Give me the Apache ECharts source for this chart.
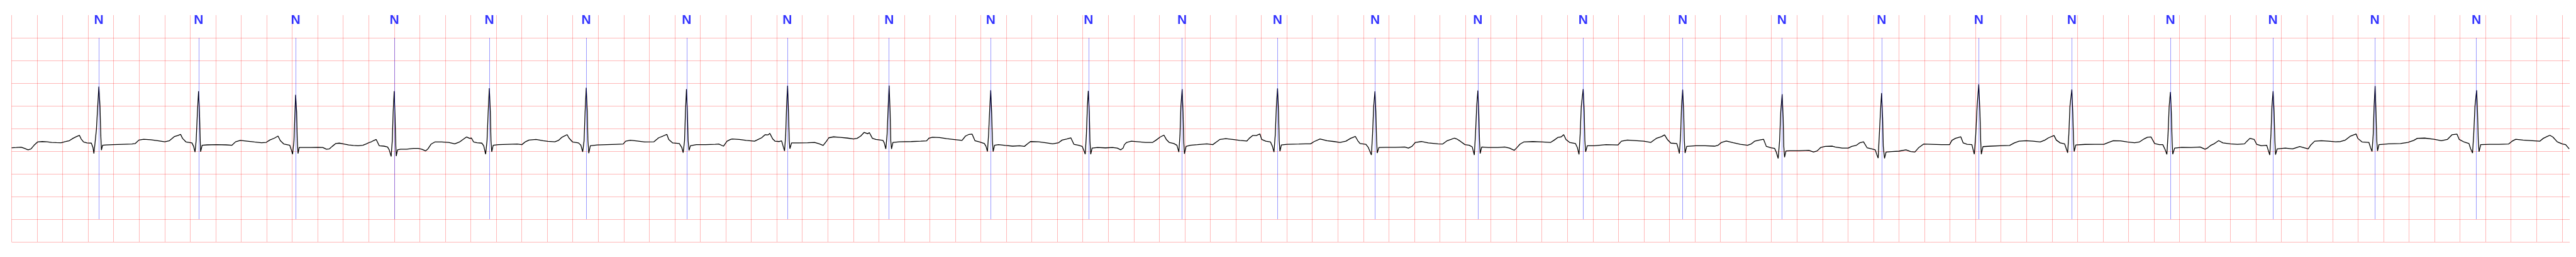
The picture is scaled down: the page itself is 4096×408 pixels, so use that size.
<!DOCTYPE html>
<html><head><meta charset="utf-8">
<script src="https://cdn.jsdelivr.net/npm/echarts@6/dist/echarts.min.js"></script>
<style>html,body{margin:0;padding:0;background:#fff;}#c{width:4096px;height:408px;}</style>
</head><body><div id="c"></div>
<script>
// Beat annotation times (s) and labels
const beatTimes = [0.684,1.466,2.227,3.001,3.746,4.506,5.294,6.083,6.881,7.678,8.445,9.179,9.927,10.692,11.498,12.324,13.104,13.882,14.664,15.426,16.156,16.929,17.732,18.532,19.328];
const beatLabels = ['N','N','N','N','N','N','N','N','N','N','N','N','N','N','N','N','N','N','N','N','N','N','N','N','N'];

// ECG trace [time s, amplitude mV]
const ecg1 = [[0,-0.424],[0.037,-0.419],[0.074,-0.412],[0.102,-0.439],[0.129,-0.470],[0.152,-0.449],[0.176,-0.369],[0.203,-0.298],[0.240,-0.288],[0.277,-0.293],[0.314,-0.306],[0.351,-0.311],[0.388,-0.313],[0.425,-0.288],[0.453,-0.268],[0.481,-0.217],[0.508,-0.179],[0.532,-0.152],[0.545,-0.230],[0.564,-0.298],[0.591,-0.318],[0.625,-0.323],[0.638,-0.419],[0.645,-0.551],[0.656,-0.268],[0.665,-0.015],[0.675,0.490],[0.684,0.924],[0.693,0.490],[0.699,-0.141],[0.704,-0.477],[0.713,-0.369],[0.739,-0.364],[0.795,-0.356],[0.869,-0.348],[0.943,-0.343],[0.970,-0.331],[0.998,-0.255],[1.035,-0.237],[1.091,-0.247],[1.146,-0.268],[1.201,-0.293],[1.238,-0.268],[1.275,-0.179],[1.303,-0.154],[1.325,-0.129],[1.340,-0.217],[1.368,-0.298],[1.414,-0.318],[1.427,-0.394],[1.438,-0.520],[1.447,-0.268],[1.457,0.364],[1.466,0.823],[1.473,0.364],[1.479,-0.268],[1.482,-0.513],[1.494,-0.369],[1.534,-0.361],[1.608,-0.356],[1.682,-0.361],[1.728,-0.369],[1.756,-0.293],[1.793,-0.263],[1.848,-0.280],[1.904,-0.298],[1.959,-0.313],[1.996,-0.306],[2.024,-0.255],[2.061,-0.212],[2.089,-0.167],[2.107,-0.268],[2.135,-0.343],[2.181,-0.369],[2.196,-0.495],[2.203,-0.566],[2.214,-0.268],[2.222,0.364],[2.227,0.742],[2.235,0.364],[2.240,-0.268],[2.246,-0.551],[2.255,-0.419],[2.292,-0.419],[2.348,-0.419],[2.403,-0.414],[2.440,-0.419],[2.468,-0.457],[2.492,-0.449],[2.514,-0.394],[2.542,-0.331],[2.569,-0.323],[2.606,-0.343],[2.643,-0.364],[2.680,-0.374],[2.717,-0.381],[2.754,-0.369],[2.782,-0.338],[2.806,-0.306]];
const ecg2 = [[2.818,-0.298],[2.837,-0.268],[2.859,-0.242],[2.883,-0.381],[2.920,-0.389],[2.948,-0.407],[2.961,-0.470],[2.976,-0.616],[2.985,-0.268],[2.992,0.364],[3.000,0.823],[3.007,0.237],[3.013,-0.394],[3.016,-0.609],[3.026,-0.470],[3.050,-0.457],[3.096,-0.457],[3.151,-0.439],[3.188,-0.439],[3.216,-0.457],[3.247,-0.495],[3.266,-0.444],[3.290,-0.343],[3.318,-0.298],[3.373,-0.298],[3.428,-0.306],[3.475,-0.338],[3.512,-0.298],[3.539,-0.242],[3.567,-0.187],[3.591,-0.217],[3.606,-0.212],[3.623,-0.298],[3.650,-0.313],[3.687,-0.323],[3.702,-0.381],[3.717,-0.566],[3.728,-0.268],[3.737,0.364],[3.746,0.889],[3.754,0.364],[3.759,-0.268],[3.765,-0.515],[3.776,-0.369],[3.817,-0.356],[3.891,-0.348],[3.965,-0.343],[4.001,-0.356],[4.029,-0.293],[4.057,-0.255],[4.112,-0.242],[4.168,-0.268],[4.205,-0.283],[4.260,-0.293],[4.288,-0.263],[4.316,-0.192],[4.356,-0.136],[4.371,-0.212],[4.399,-0.298],[4.445,-0.318],[4.464,-0.369],[4.478,-0.515],[4.489,-0.268],[4.497,0.364],[4.506,0.899],[4.514,0.364],[4.519,-0.268],[4.526,-0.545],[4.538,-0.381],[4.593,-0.364],[4.667,-0.356],[4.741,-0.348],[4.796,-0.343],[4.815,-0.280],[4.852,-0.260],[4.907,-0.275],[4.963,-0.298],[5.037,-0.293],[5.074,-0.205],[5.107,-0.167],[5.138,-0.129],[5.153,-0.242],[5.184,-0.318],[5.236,-0.331],[5.255,-0.419],[5.266,-0.533],[5.277,-0.268],[5.284,0.364],[5.292,0.869],[5.299,0.364],[5.305,-0.268],[5.312,-0.482],[5.323,-0.381],[5.369,-0.356],[5.443,-0.356],[5.517,-0.348],[5.545,-0.343],[5.582,-0.389],[5.610,-0.280],[5.637,-0.242]];
const ecg3 = [[5.650,-0.230],[5.706,-0.242],[5.761,-0.263],[5.826,-0.280],[5.854,-0.242],[5.881,-0.205],[5.909,-0.136],[5.931,-0.141],[5.946,-0.109],[5.968,-0.230],[5.987,-0.280],[6.020,-0.288],[6.038,-0.273],[6.048,-0.369],[6.061,-0.495],[6.070,-0.141],[6.077,0.490],[6.085,0.944],[6.092,0.364],[6.098,-0.268],[6.103,-0.444],[6.116,-0.318],[6.168,-0.318],[6.242,-0.313],[6.297,-0.306],[6.334,-0.338],[6.364,-0.374],[6.390,-0.280],[6.408,-0.205],[6.445,-0.184],[6.501,-0.197],[6.556,-0.212],[6.602,-0.230],[6.630,-0.217],[6.658,-0.167],[6.685,-0.086],[6.713,-0.116],[6.726,-0.091],[6.750,-0.217],[6.778,-0.242],[6.833,-0.263],[6.843,-0.318],[6.855,-0.449],[6.865,-0.141],[6.874,0.490],[6.881,0.949],[6.889,0.364],[6.894,-0.268],[6.900,-0.449],[6.911,-0.306],[6.963,-0.293],[7.055,-0.288],[7.129,-0.280],[7.175,-0.273],[7.194,-0.212],[7.221,-0.192],[7.277,-0.199],[7.332,-0.225],[7.406,-0.247],[7.453,-0.263],[7.480,-0.167],[7.508,-0.129],[7.532,-0.124],[7.554,-0.268],[7.591,-0.298],[7.628,-0.331],[7.641,-0.394],[7.652,-0.508],[7.661,-0.141],[7.671,0.490],[7.678,0.843],[7.685,0.364],[7.691,-0.268],[7.697,-0.510],[7.708,-0.369],[7.739,-0.356],[7.794,-0.374],[7.850,-0.389],[7.905,-0.381],[7.942,-0.394],[7.970,-0.331],[7.989,-0.288],[8.053,-0.293],[8.109,-0.313],[8.164,-0.338],[8.210,-0.313],[8.238,-0.255],[8.275,-0.230],[8.306,-0.205],[8.330,-0.348],[8.367,-0.369],[8.395,-0.394],[8.410,-0.495],[8.419,-0.566],[8.428,-0.141],[8.436,0.490],[8.443,0.831],[8.451,0.364],[8.456,-0.268],[8.462,-0.566],[8.473,-0.432],[8.515,-0.419]];
const ecg4 = [[8.522,-0.419],[8.578,-0.427],[8.633,-0.419],[8.670,-0.432],[8.698,-0.470],[8.716,-0.432],[8.726,-0.356],[8.744,-0.306],[8.781,-0.280],[8.837,-0.293],[8.892,-0.306],[8.948,-0.306],[8.975,-0.255],[9.007,-0.187],[9.036,-0.146],[9.055,-0.242],[9.077,-0.306],[9.114,-0.331],[9.138,-0.369],[9.153,-0.520],[9.162,-0.141],[9.169,0.490],[9.179,0.869],[9.186,0.364],[9.191,-0.268],[9.197,-0.558],[9.210,-0.394],[9.243,-0.369],[9.299,-0.356],[9.373,-0.338],[9.419,-0.356],[9.447,-0.298],[9.474,-0.242],[9.521,-0.225],[9.576,-0.242],[9.631,-0.263],[9.687,-0.275],[9.705,-0.217],[9.733,-0.154],[9.761,-0.154],[9.789,-0.121],[9.803,-0.242],[9.835,-0.280],[9.872,-0.298],[9.887,-0.394],[9.899,-0.520],[9.909,-0.141],[9.918,0.490],[9.927,0.886],[9.935,0.364],[9.940,-0.268],[9.946,-0.500],[9.957,-0.364],[10.001,-0.348],[10.094,-0.343],[10.149,-0.338],[10.186,-0.338],[10.214,-0.288],[10.260,-0.230],[10.315,-0.268],[10.371,-0.288],[10.417,-0.306],[10.463,-0.280],[10.500,-0.217],[10.537,-0.174],[10.556,-0.268],[10.574,-0.331],[10.620,-0.348],[10.639,-0.419],[10.663,-0.583],[10.672,-0.141],[10.681,0.490],[10.691,0.818],[10.698,0.364],[10.704,-0.268],[10.709,-0.540],[10.722,-0.419],[10.777,-0.414],[10.851,-0.414],[10.925,-0.407],[10.953,-0.432],[10.981,-0.394],[11.008,-0.306],[11.055,-0.288],[11.110,-0.318],[11.184,-0.338],[11.221,-0.343],[11.258,-0.268],[11.286,-0.242],[11.314,-0.212],[11.332,-0.230],[11.360,-0.280],[11.397,-0.356]];
const ecg5 = [[11.431,-0.369],[11.454,-0.407],[11.470,-0.583],[11.479,-0.141],[11.489,0.490],[11.498,0.838],[11.505,0.364],[11.511,-0.268],[11.516,-0.551],[11.528,-0.407],[11.579,-0.419],[11.653,-0.419],[11.709,-0.407],[11.746,-0.432],[11.783,-0.482],[11.805,-0.419],[11.829,-0.343],[11.857,-0.298],[11.930,-0.288],[12.004,-0.298],[12.069,-0.306],[12.097,-0.255],[12.125,-0.197],[12.152,-0.184],[12.171,-0.136],[12.189,-0.242],[12.217,-0.306],[12.263,-0.331],[12.278,-0.419],[12.291,-0.571],[12.300,-0.141],[12.309,0.490],[12.324,0.869],[12.332,0.364],[12.337,-0.268],[12.343,-0.515],[12.356,-0.381],[12.411,-0.381],[12.503,-0.356],[12.596,-0.364],[12.624,-0.280],[12.670,-0.255],[12.744,-0.268],[12.799,-0.280],[12.855,-0.306],[12.873,-0.268],[12.901,-0.212],[12.938,-0.179],[12.962,-0.141],[12.984,-0.242],[13.012,-0.323],[13.058,-0.331],[13.067,-0.419],[13.078,-0.551],[13.088,-0.141],[13.095,0.490],[13.104,0.856],[13.112,0.364],[13.117,-0.268],[13.123,-0.540],[13.136,-0.394],[13.206,-0.381],[13.280,-0.381],[13.354,-0.389],[13.382,-0.369],[13.409,-0.306],[13.446,-0.275],[13.502,-0.313],[13.557,-0.348],[13.613,-0.369],[13.640,-0.343],[13.668,-0.280],[13.705,-0.255],[13.738,-0.237],[13.760,-0.394],[13.797,-0.424],[13.825,-0.439],[13.838,-0.520],[13.853,-0.659],[13.864,-0.268],[13.873,0.364],[13.884,0.755],[13.892,0.237],[13.897,-0.394],[13.903,-0.634],[13.914,-0.495],[13.945,-0.490],[14.019,-0.490],[14.093,-0.482],[14.130,-0.520],[14.158,-0.495],[14.186,-0.419],[14.223,-0.394],[14.278,-0.389]];
const ecg6 = [[14.300,-0.407],[14.356,-0.432],[14.402,-0.432],[14.430,-0.394],[14.467,-0.369],[14.494,-0.313],[14.522,-0.293],[14.550,-0.424],[14.587,-0.449],[14.614,-0.470],[14.626,-0.571],[14.637,-0.652],[14.646,-0.141],[14.655,0.364],[14.664,0.780],[14.672,0.237],[14.677,-0.394],[14.687,-0.659],[14.699,-0.520],[14.744,-0.508],[14.799,-0.500],[14.855,-0.470],[14.892,-0.508],[14.925,-0.520],[14.956,-0.419],[14.993,-0.343],[15.058,-0.348],[15.132,-0.356],[15.197,-0.356],[15.215,-0.263],[15.243,-0.217],[15.285,-0.184],[15.304,-0.318],[15.335,-0.348],[15.372,-0.356],[15.382,-0.470],[15.391,-0.566],[15.402,-0.141],[15.413,0.490],[15.426,0.975],[15.435,0.364],[15.441,-0.268],[15.446,-0.566],[15.459,-0.399],[15.520,-0.389],[15.594,-0.381],[15.668,-0.374],[15.705,-0.318],[15.742,-0.280],[15.797,-0.268],[15.853,-0.280],[15.908,-0.298],[15.945,-0.255],[15.973,-0.205],[16.016,-0.154],[16.034,-0.255],[16.065,-0.318],[16.099,-0.338],[16.112,-0.444],[16.123,-0.535],[16.132,-0.141],[16.141,0.490],[16.156,0.861],[16.163,0.364],[16.169,-0.268],[16.174,-0.508],[16.187,-0.364],[16.259,-0.351],[16.333,-0.348],[16.407,-0.348],[16.444,-0.306],[16.481,-0.268],[16.537,-0.273],[16.592,-0.298],[16.648,-0.313],[16.685,-0.298],[16.722,-0.230],[16.749,-0.192],[16.777,-0.187],[16.805,-0.331],[16.842,-0.356],[16.869,-0.356],[16.888,-0.470],[16.901,-0.571],[16.910,-0.141],[16.919,0.490],[16.929,0.806],[16.936,0.364],[16.942,-0.268],[16.947,-0.566],[16.962,-0.432],[17.017,-0.414],[17.091,-0.419],[17.162,-0.407]];
const ecg7 = [[17.200,-0.457],[17.219,-0.432],[17.247,-0.369],[17.275,-0.331],[17.307,-0.268],[17.341,-0.318],[17.398,-0.338],[17.454,-0.348],[17.510,-0.338],[17.529,-0.280],[17.552,-0.217],[17.586,-0.242],[17.605,-0.348],[17.642,-0.381],[17.684,-0.369],[17.695,-0.470],[17.708,-0.583],[17.717,-0.141],[17.725,0.490],[17.734,0.823],[17.742,0.364],[17.748,-0.268],[17.753,-0.576],[17.766,-0.449],[17.830,-0.432],[17.887,-0.449],[17.943,-0.399],[18.009,-0.449],[18.028,-0.369],[18.060,-0.280],[18.113,-0.268],[18.169,-0.280],[18.225,-0.293],[18.263,-0.288],[18.301,-0.255],[18.338,-0.172],[18.385,-0.121],[18.398,-0.217],[18.432,-0.298],[18.485,-0.306],[18.498,-0.419],[18.510,-0.508],[18.519,-0.141],[18.526,0.490],[18.534,0.937],[18.541,0.364],[18.547,-0.268],[18.553,-0.495],[18.564,-0.356],[18.639,-0.338],[18.733,-0.331],[18.790,-0.306],[18.837,-0.263],[18.865,-0.217],[18.922,-0.212],[18.997,-0.237],[19.053,-0.268],[19.100,-0.242],[19.138,-0.136],[19.176,-0.124],[19.194,-0.242],[19.232,-0.298],[19.270,-0.331],[19.283,-0.444],[19.298,-0.540],[19.307,-0.141],[19.317,0.490],[19.330,0.843],[19.337,0.364],[19.343,-0.268],[19.349,-0.513],[19.362,-0.356],[19.430,-0.348],[19.505,-0.348],[19.580,-0.343],[19.608,-0.280],[19.637,-0.237],[19.693,-0.255],[19.768,-0.268],[19.825,-0.280],[19.853,-0.217],[19.881,-0.179],[19.904,-0.149],[19.928,-0.187],[19.936,-0.167],[19.962,-0.293],[20.000,-0.338],[20.028,-0.356],[20.056,-0.449]];

const ecg = [].concat(ecg1, ecg2, ecg3, ecg4, ecg5, ecg6, ecg7);

const gridColor = 'rgba(255,0,0,0.28)';
const chart = echarts.init(document.getElementById('c'), null, {renderer: 'canvas'});
chart.setOption({
  animation: false,
  backgroundColor: '#ffffff',
  grid: {left: 18.5, right: 10, top: 24, bottom: 24},
  xAxis: {
    type: 'value', min: 0, max: 20.06, interval: 0.2,
    axisLine: {show: false}, axisTick: {show: false}, axisLabel: {show: false},
    splitLine: {show: true, showMaxLine: false, lineStyle: {color: gridColor, width: 1}}
  },
  yAxis: {
    type: 'value', min: -2.5, max: 2.5, interval: 0.5,
    axisLine: {show: false}, axisTick: {show: false}, axisLabel: {show: false},
    splitLine: {show: true, showMaxLine: false, lineStyle: {color: gridColor, width: 1}}
  },
  series: [
    {
      type: 'scatter', z: 1, silent: true,
      data: beatTimes.map((t, i) => ({value: [t, 2.39], name: beatLabels[i]})),
      symbolSize: 0,
      label: {show: true, position: 'inside', formatter: p => p.name, color: '#0000ff',
              fontSize: 21, fontWeight: 'bold', fontFamily: 'Liberation Sans'},
      markLine: {
        silent: true, symbol: 'none', animation: false,
        label: {show: false},
        lineStyle: {color: 'rgba(0,0,255,0.5)', width: 0.8, type: 'solid'},
        data: beatTimes.map(t => [{coord: [t, -2]}, {coord: [t, 2]}])
      }
    },
    {
      type: 'line', z: 3, data: ecg, showSymbol: false, symbol: 'none', sampling: null,
      lineStyle: {color: '#000000', width: 1.3}
    }
  ]
});
</script></body></html>
